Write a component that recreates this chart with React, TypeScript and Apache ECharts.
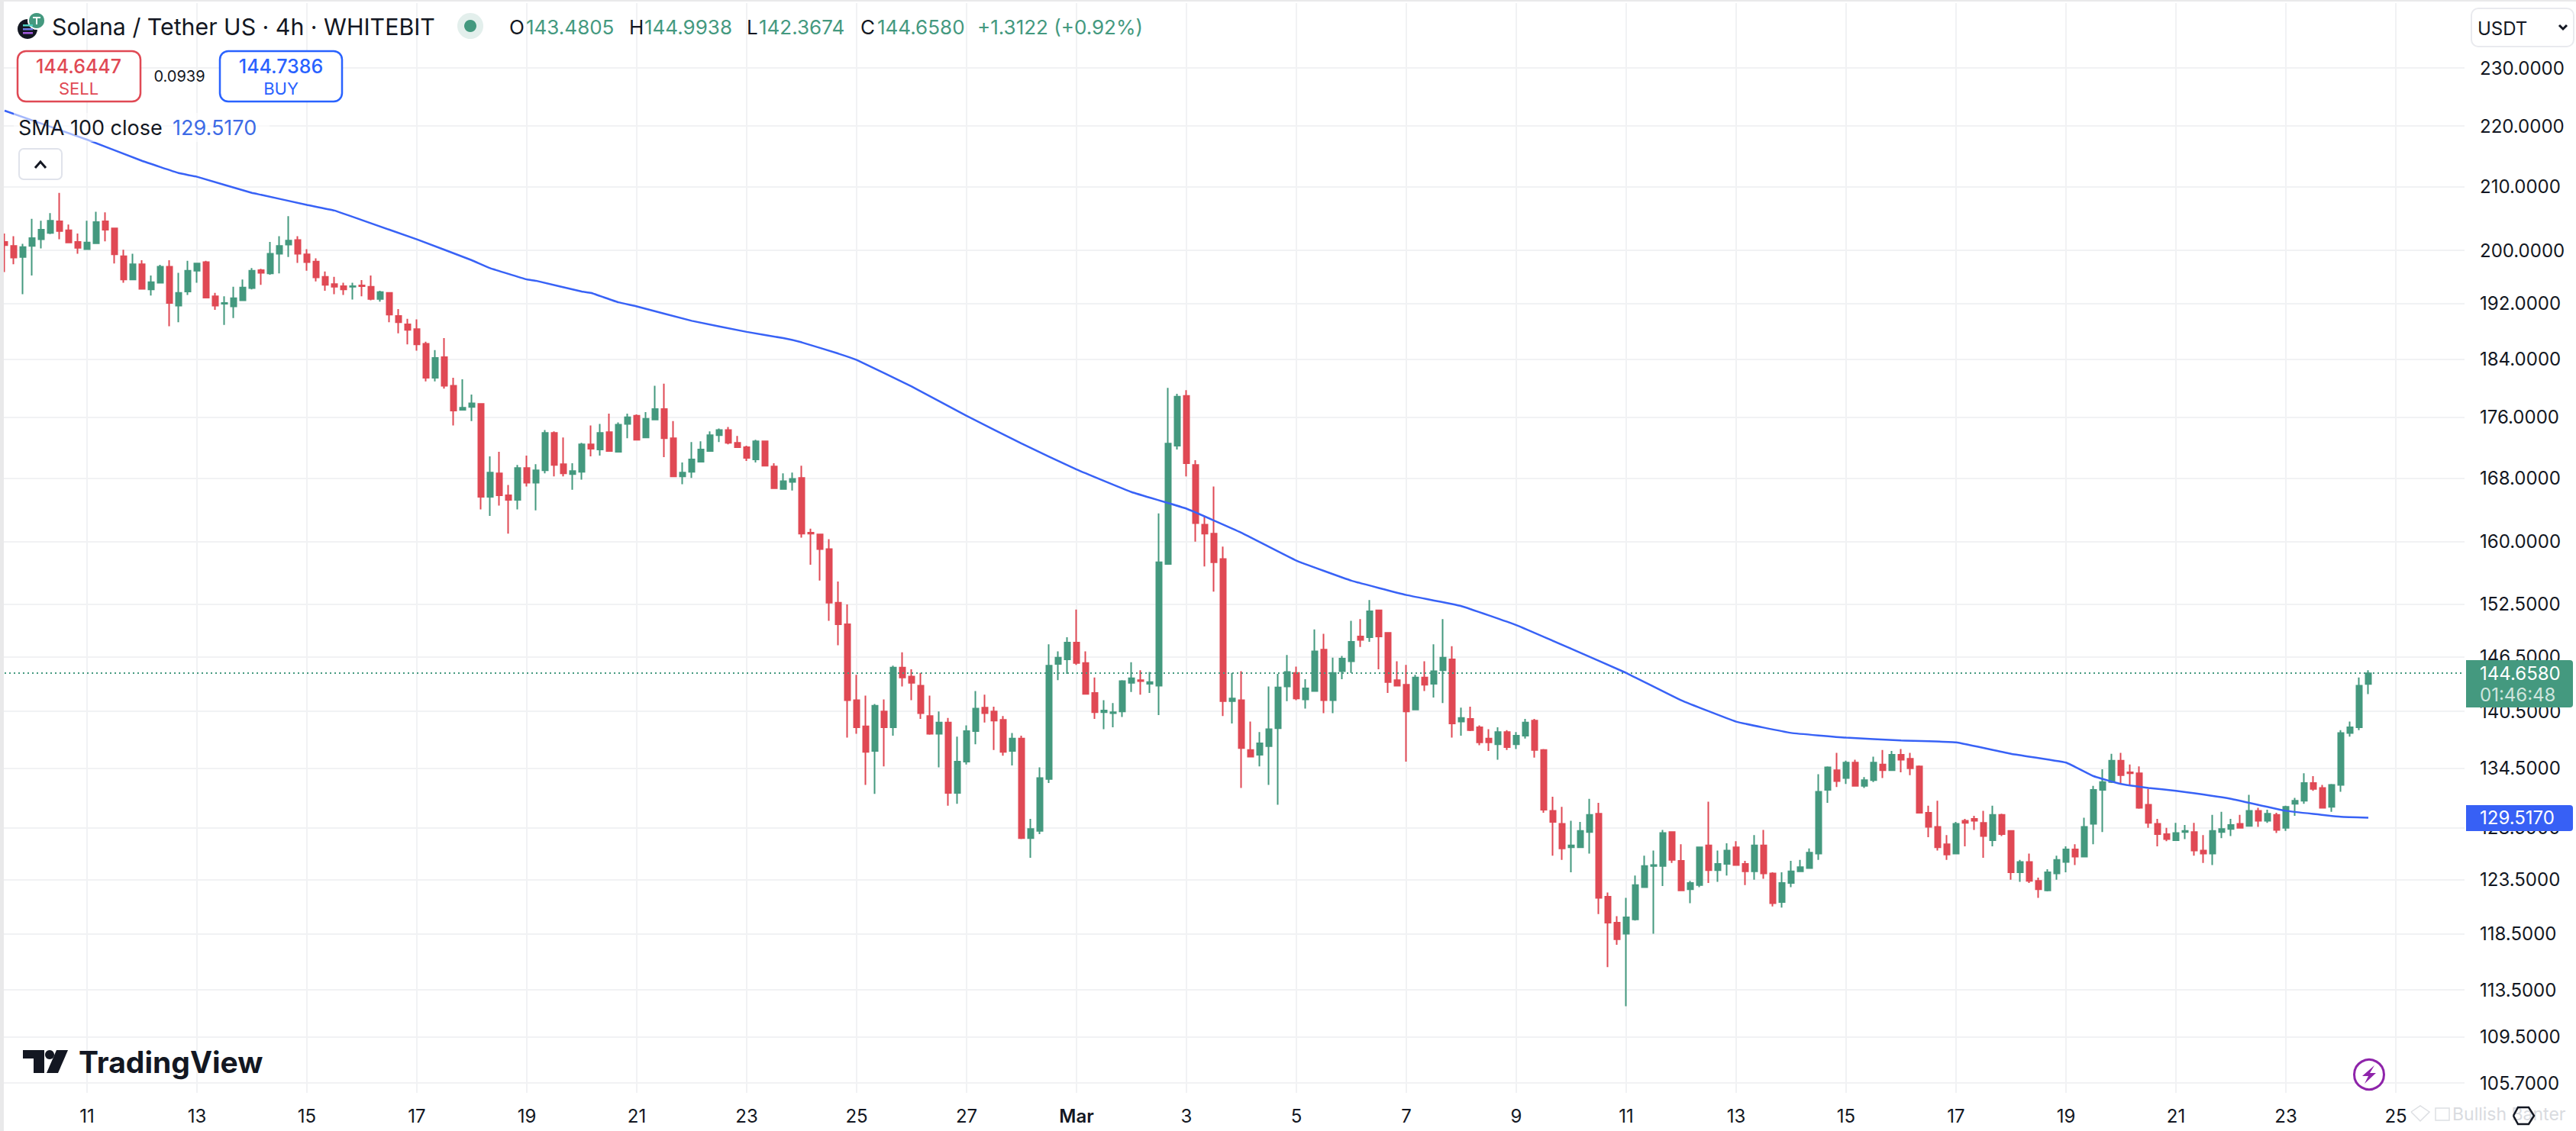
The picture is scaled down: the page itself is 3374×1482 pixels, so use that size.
import React, { useEffect, useRef } from "react";
import * as echarts from "echarts";

// Rows are [open, high, low, close], one every 4 hours
const barsEarlyFeb: number[][] = [
[201.3,202.6,196.7,200.8],[200.7,202.2,197.9,198.9],[199.0,201.0,193.4,200.5],[200.7,204.9,196.2,201.9],[201.7,204.6,200.3,203.2],[202.7,205.8,202.5,204.6],[204.5,209.0,201.7,203.0],[203.1,204.0,201.1,201.2],[201.3,202.6,199.5,200.4],
[200.2,204.6,200.1,201.2],[201.1,206.0,201.1,204.4],[204.5,205.9,201.4,203.2],[203.4,203.4,198.0,199.4],[199.1,200.1,195.1,195.6],[195.6,199.5,195.6,197.9],[197.9,198.5,194.1,194.2],[194.1,196.2,193.2,195.2],[195.1,197.8,195.1,197.5],
[197.5,198.5,188.7,192.1],[191.7,196.6,189.3,193.6],[193.8,198.4,193.3,196.9],[196.9,198.0,195.1,198.0],[198.2,198.4,192.9,192.9],[193.1,193.6,191.1,191.7],[192.0,193.1,188.9,192.1],[191.6,194.5,189.9,192.8],[192.5,195.6,192.5,194.4],
[194.3,197.3,194.1,196.9],[197.0,197.2,194.8,196.6],[196.5,201.3,196.3,199.5],[199.5,202.2,196.5,200.7],[200.9,205.3,199.0,201.5],[201.6,202.2,198.1,199.5],[199.4,200.2,196.9,198.2],[198.3,198.8,195.3,195.9],[196.0,196.8,193.9,194.8],
[194.9,196.0,193.4,194.5],[194.6,195.1,193.3,194.1],[194.5,195.1,192.6,194.6],[194.7,195.5,193.1,194.6],[194.5,196.2,192.5,192.7],[192.7,193.9,192.3,193.7],[193.6,193.7,189.3,190.4],[190.2,191.2,187.7,189.3],[189.0,189.8,186.1,188.2],
[188.3,189.7,185.2,186.1],[186.2,186.5,180.9,181.4],[181.4,185.3,180.9,184.2],[184.3,187.0,179.9,180.3],[180.3,181.4,174.9,176.9],[177.0,181.2,176.9,177.3],[177.4,179.1,175.5,177.9],[177.8,177.9,164.0,165.6],[165.6,170.8,163.2,168.7],
[168.6,171.4,164.5,165.8],[165.8,167.1,161.0,165.2],[165.2,169.7,164.0,169.3],[169.3,170.9,166.9,167.4],[167.4,169.8,163.9,169.0],[169.0,174.3,168.6,173.9],[173.9,174.1,168.2,169.7],[169.8,173.3,168.2,168.6],[168.5,169.9,166.5,168.9],
[168.8,172.6,167.8,172.4],[172.4,174.9,170.8,171.8],[171.7,175.1,170.9,173.9],[174.0,176.5,171.4,171.5],
];
const barsLateFeb: number[][] = [
[171.4,175.3,171.3,175.0],[175.1,176.5,173.2,176.0],[176.2,176.4,173.0,173.0],[173.3,176.7,173.2,175.8],[175.7,180.3,175.7,177.1],[177.1,180.6,170.7,173.2],[173.2,175.5,168.1,168.2],[168.2,170.0,167.2,168.7],[168.8,172.7,168.0,170.4],
[170.1,172.8,170.1,171.7],[171.5,174.1,171.4,173.6],[173.6,174.5,172.7,174.3],[174.3,174.7,172.4,172.6],[172.6,173.5,171.9,172.0],[172.0,172.2,170.2,170.6],[170.4,173.0,170.0,172.8],[172.8,172.8,169.5,169.6],[169.5,169.9,166.6,166.7],
[166.6,168.6,166.5,167.6],[167.5,168.7,166.4,167.9],[168.0,169.6,160.5,161.0],[161.1,161.6,157.2,161.0],[160.9,161.0,155.3,159.1],[159.1,160.3,150.6,152.7],[152.7,155.2,147.8,150.2],[150.2,152.5,137.7,141.7],[141.7,144.5,138.1,138.8],
[138.9,142.2,132.8,136.2],[136.3,141.3,131.9,141.1],[140.5,141.8,134.7,138.8],[138.8,145.5,137.9,145.3],[145.3,147.0,143.2,144.2],[144.3,145.1,141.7,143.6],[143.3,144.7,139.7,140.3],[140.0,142.2,138.0,138.1],[138.1,140.5,134.6,139.3],
[139.3,139.8,130.7,132.0],[132.0,137.8,130.9,135.2],[135.2,139.0,134.9,138.4],[138.4,142.7,137.0,140.8],[140.9,142.3,139.3,140.3],[140.5,141.0,136.4,139.5],[139.6,140.0,135.8,136.2],[136.3,138.2,134.8,137.6],[137.6,137.9,127.4,127.5],
[127.5,129.4,125.6,128.4],[128.2,134.6,127.9,133.5],[133.4,147.9,133.0,145.5],[145.7,147.1,143.9,146.4],[146.2,148.7,144.6,148.1],[148.1,151.9,145.6,145.8],[145.8,147.1,142.3,142.4],[142.5,144.2,139.7,140.4],[140.4,141.7,138.6,140.6],
[140.3,141.4,138.8,140.4],[140.5,143.9,139.9,143.8],[143.6,145.9,142.6,144.1],[143.9,145.0,142.3,143.8],[143.5,144.8,142.5,143.7],[143.3,163.5,140.1,157.5],[157.3,180.0,157.3,172.5],[172.2,179.2,171.7,178.8],[178.9,179.7,168.2,169.9],
[169.7,170.3,160.0,162.3],[162.1,163.1,157.0,161.0],[161.0,166.9,154.0,157.5],
];
const barsEarlyMar: number[][] = [
[157.9,159.4,140.0,141.6],[141.6,144.7,139.2,141.9],[141.7,144.9,132.5,136.6],[136.4,139.4,135.7,135.7],[135.9,138.3,134.7,137.1],[136.8,143.2,132.8,138.6],[138.7,144.6,130.8,143.1],[143.2,146.7,141.6,144.8],[144.7,145.4,141.7,141.9],
[141.8,144.0,140.8,143.0],[142.7,149.6,142.7,147.1],[147.3,149.1,140.3,141.7],[141.7,146.4,140.3,144.7],[144.9,146.6,144.0,146.3],[146.0,150.6,144.7,148.2],[148.8,150.8,147.6,148.4],[148.7,153.0,148.2,151.7],[151.8,151.8,145.1,148.8],
[149.2,149.2,142.5,143.7],[143.9,146.0,143.3,143.3],[143.4,145.6,135.2,140.5],[140.7,144.5,140.7,144.2],[144.2,146.0,142.7,143.4],[143.5,147.9,142.0,144.9],[145.0,150.8,141.4,146.4],[146.2,147.7,137.7,139.2],[139.4,140.9,137.9,139.8],
[139.7,141.0,138.4,138.5],[138.8,139.0,136.9,137.2],[137.6,138.6,136.3,137.2],[137.0,138.8,135.4,138.3],[138.3,138.5,136.4,136.7],[137.0,138.3,136.5,137.9],[137.9,139.7,137.6,139.3],[139.5,139.7,135.6,136.4],[136.4,136.5,130.0,130.3],
[130.2,131.6,125.8,129.1],[128.9,130.6,125.4,126.5],[126.6,129.2,124.2,126.8],[126.6,129.1,126.6,128.2],[128.1,131.4,126.0,129.8],[129.9,131.0,120.3,121.8],[121.9,122.3,115.5,119.5],[119.5,120.1,117.5,118.0],[118.5,121.8,112.1,120.0],
[119.8,123.9,119.7,123.0],[122.8,125.8,122.8,124.8],[124.8,126.3,118.5,124.9],[124.8,128.3,122.9,128.0],[128.1,128.1,125.1,125.4],[125.3,126.9,122.5,122.5],[122.6,123.4,121.3,123.2],[123.0,126.6,122.8,126.6],[126.8,131.1,123.2,124.4],
];
const barsLateMar: number[][] = [
[124.4,126.3,123.3,125.0],[125.0,127.0,123.9,126.3],[126.6,127.2,124.9,124.9],[125.0,125.3,123.0,124.3],[124.3,127.8,123.5,126.8],[126.8,128.3,123.6,124.1],[124.1,124.2,121.0,121.3],[121.4,124.2,120.9,123.2],[123.2,125.3,122.8,124.3],
[124.3,125.4,124.3,124.7],[124.6,126.5,124.6,126.1],[126.0,133.9,125.4,132.1],[132.3,134.7,131.0,134.6],[134.3,136.1,132.6,133.2],[133.5,135.3,132.9,135.1],[135.1,135.4,132.7,132.7],[132.7,133.6,132.5,133.3],[133.3,135.7,133.1,135.1],
[134.9,136.4,133.5,134.3],[134.3,136.3,134.3,135.9],[135.9,136.5,134.1,135.4],[135.5,136.1,133.8,134.5],[134.7,134.8,130.0,130.0],[130.0,130.7,127.6,128.6],[128.6,131.2,126.3,126.6],[126.9,127.8,125.4,125.9],[126.0,129.1,126.0,128.9],
[129.2,129.4,126.7,129.0],[129.4,129.7,128.3,129.2],[129.0,130.2,125.6,127.7],[127.3,130.7,126.7,129.8],[129.8,129.9,127.7,127.9],[128.2,128.2,123.5,124.2],[124.2,125.4,123.3,125.2],[125.2,126.0,123.2,123.4],[123.4,123.7,121.8,122.6],
[122.5,124.5,122.4,124.2],[124.1,125.8,123.5,125.4],[125.2,126.7,124.2,126.4],[126.4,126.9,124.9,125.7],[125.7,129.5,125.7,128.6],[128.9,132.7,126.9,132.3],[132.3,134.4,128.1,133.1],[133.1,136.0,133.0,135.3],[135.3,136.1,132.9,133.8],
[134.1,134.9,132.7,134.0],[134.0,134.7,130.4,130.5],[130.8,132.4,128.5,129.0],[128.9,129.4,126.7,127.9],[127.9,128.5,127.2,127.4],[127.3,129.0,127.3,128.0],[128.1,128.8,127.4,128.2],[128.1,129.0,125.8,126.3],[126.3,127.8,125.1,126.0],
[126.0,129.8,124.9,128.2],[128.1,130.1,127.5,128.4],[128.4,129.4,127.7,128.8],[128.9,129.8,128.5,128.5],[128.7,131.8,128.7,130.2],[130.2,130.5,128.6,129.2],[129.2,130.3,129.0,129.9],[129.8,130.0,128.0,128.3],[128.5,130.7,128.2,130.6],
[130.9,131.5,129.7,131.2],[131.2,134.0,130.9,133.0],[133.0,133.7,132.2,132.4],[132.5,132.8,130.5,130.5],[130.6,132.9,130.1,132.8],[132.8,138.5,132.1,138.2],[138.2,139.4,137.8,138.8],[138.8,144.2,138.5,143.3],[143.4805,144.9938,142.3674,144.658],
];

// SMA 100: [bar number, value]
const smaPoints: number[][] = [
[0,222.6],[9,217.7],[15,214.2],[19,212.2],[21,211.6],[27,209.0],[28,208.7],[33,207.1],[36,206.2],[39,204.7],[45,201.7],[51,198.5],[53,197.3],[57,195.6],[58,195.4],[63,193.8],[64,193.6],[67,192.2],[69,191.6],[75,189.5],[81,187.9],[85,187.0],
[87,186.4],[91,184.8],[93,183.9],[99,180.2],[105,176.2],[111,172.5],[117,169.1],[123,166.2],[129,164.1],[135,161.1],[141,157.7],[147,155.3],[153,153.6],[159,152.3],
[165,150.1],[171,147.4],[177,144.7],[183,141.7],[189,139.4],[195,138.2],[201,137.7],[207,137.4],[213,137.2],[219,136.0],[225,135.1],[228,133.7],[231,132.9],
[234,132.5],[237,132.2],[243,131.4],[249,130.2],[255,129.6],[258,129.517],
];

const priceTicks = [230, 220, 210, 200, 192, 184, 176, 168, 160, 152.5, 146.5, 140.5, 134.5, 128.5, 123.5, 118.5, 113.5, 109.5, 105.7];
const labelledDays = ["02-11","02-13","02-15","02-17","02-19","02-21","02-23","02-25","02-27","03-01","03-03","03-05","03-07","03-09","03-11","03-13","03-15","03-17","03-19","03-21","03-23","03-25"];
const lastPrice = 144.658;
const smaLast = "129.5170";

const GREEN = "#44997F";
const RED = "#E04954";
const BLUE = "#3862F6";
const INK = "#131722";
const FONT = "Inter";

const bars = [...barsEarlyFeb, ...barsLateFeb, ...barsEarlyMar, ...barsLateMar];

// Categories every 4 hours from 9 Feb 12:00, continuing past the last bar
const categories: string[] = [];
for (let i = 0; i < 269; i++) {
  const d = new Date(Date.UTC(2025, 1, 9, 12 + 4 * i));
  const p = (n: number) => String(n).padStart(2, "0");
  categories.push(`${p(d.getUTCMonth() + 1)}-${p(d.getUTCDate())} ${p(d.getUTCHours())}:00`);
}
const isLabelled = (c: string) => c.endsWith(" 00:00") && labelledDays.includes(c.slice(0, 5));
const labelOf = (c: string) => (c.startsWith("03-01") ? "{mar|Mar}" : String(Number(c.slice(3, 5))));

const txt = (text: string, x: number, y: number, fill: string, fontSize: number, extra: any = {}) => ({
  type: "text", z: 100, x, y,
  style: { text, fill, fontSize, fontFamily: FONT, textAlign: "left", textVerticalAlign: "middle", ...extra },
});
const box = (x: number, y: number, w: number, h: number, r: number, fill: string, stroke: string, lineWidth = 2) => ({
  type: "rect", z: 99, shape: { x, y, width: w, height: h, r }, style: { fill, stroke, lineWidth },
});
const poly = (points: number[][], fill: string) => ({ type: "polygon", z: 100, shape: { points }, style: { fill } });
const chevron = (points: number[][], stroke: string, lineWidth = 3) => ({
  type: "polyline", z: 100, shape: { points }, style: { stroke, lineWidth, fill: "none" },
});

const graphics: any[] = [
  // page edge
  { type: "rect", z: 98, shape: { x: 0, y: 0, width: 5, height: 1482 }, style: { fill: "#E9E9EA" } },
  { type: "rect", z: 98, shape: { x: 0, y: 0, width: 3374, height: 2 }, style: { fill: "#E9E9EA" } },
  // symbol icons
  { type: "circle", z: 100, shape: { cx: 36, cy: 38, r: 13 }, style: { fill: INK } },
  { type: "rect", z: 101, shape: { x: 30, y: 32, width: 13, height: 2.5 }, style: { fill: "#4FD0C0" } },
  { type: "rect", z: 101, shape: { x: 30, y: 37, width: 13, height: 2.5 }, style: { fill: "#6C7BE0" } },
  { type: "rect", z: 101, shape: { x: 30, y: 42, width: 13, height: 2.5 }, style: { fill: "#A55BE0" } },
  { type: "circle", z: 100, shape: { cx: 48, cy: 27, r: 11 }, style: { fill: GREEN, stroke: "#fff", lineWidth: 2 } },
  { type: "rect", z: 101, shape: { x: 43, y: 22, width: 10, height: 2 }, style: { fill: "#fff" } },
  { type: "rect", z: 101, shape: { x: 47, y: 22, width: 2, height: 10 }, style: { fill: "#fff" } },
  txt("Solana / Tether US · 4h · WHITEBIT", 68, 35, INK, 30.3),
  { type: "circle", z: 100, shape: { cx: 616, cy: 34, r: 17 }, style: { fill: "#E3EFEC" } },
  { type: "circle", z: 101, shape: { cx: 616, cy: 34, r: 8 }, style: { fill: GREEN } },
  // OHLC legend
  txt("O", 667, 35, INK, 26), txt("143.4805", 689, 35, GREEN, 26),
  txt("H", 824, 35, INK, 26), txt("144.9938", 844, 35, GREEN, 26),
  txt("L", 978, 35, INK, 26), txt("142.3674", 994, 35, GREEN, 26),
  txt("C", 1127, 35, INK, 26), txt("144.6580", 1149, 35, GREEN, 26),
  txt("+1.3122 (+0.92%)", 1280, 35, GREEN, 26),
  // trade buttons
  box(23, 67, 161, 66, 11, "#fff", RED, 2.5),
  txt("144.6447", 103, 87, RED, 25, { textAlign: "center", fontWeight: 500 }),
  txt("SELL", 103, 116, RED, 22, { textAlign: "center" }),
  txt("0.0939", 235, 100, INK, 20, { textAlign: "center" }),
  box(288, 67, 160, 66, 11, "#fff", "#2962FF", 2.5),
  txt("144.7386", 368, 87, "#2962FF", 25, { textAlign: "center", fontWeight: 500 }),
  txt("BUY", 368, 116, "#2962FF", 22, { textAlign: "center" }),
  // indicator legend with its translucent backing over the line
  { type: "rect", z: 98, shape: { x: 18, y: 148, width: 335, height: 38 }, style: { fill: "rgba(255,255,255,0.55)" } },
  txt("SMA 100 close", 24, 167, INK, 27),
  txt("129.5170", 226, 167, "#3D6BE6", 27),
  box(25, 195, 56, 40, 6, "#fff", "#E0E3EB"),
  chevron([[46, 220], [53, 212], [60, 220]], INK),
  // currency button
  box(3237, 11, 134, 50, 9, "#fff", "#E9EAEE"),
  txt("USDT", 3245, 37, INK, 24),
  chevron([[3352, 33], [3357, 38], [3362, 33]], INK),
  // price badges
  { type: "rect", z: 99, shape: { x: 3230, y: 865, width: 140, height: 62, r: [0, 4, 4, 0] }, style: { fill: GREEN } },
  txt("144.6580", 3248, 882, "#fff", 24),
  txt("01:46:48", 3248, 910, "#CFE5DE", 24),
  { type: "rect", z: 99, shape: { x: 3230, y: 1055, width: 140, height: 34, r: [0, 4, 4, 0] }, style: { fill: "#3760F5" } },
  txt(smaLast, 3248, 1071, "#fff", 24),
  // TradingView mark
  poly([[30, 1376], [58, 1376], [58, 1406], [44, 1406], [44, 1387], [30, 1387]], INK),
  { type: "circle", z: 100, shape: { cx: 65, cy: 1382, r: 6 }, style: { fill: INK } },
  poly([[74, 1376], [89, 1376], [76, 1406], [61, 1406]], INK),
  txt("TradingView", 103, 1391, INK, 39, { fontWeight: 700 }),
  // replay bolt
  { type: "circle", z: 100, shape: { cx: 3103, cy: 1408, r: 19.5 }, style: { fill: "#fff", stroke: "#8E24AA", lineWidth: 3 } },
  poly([[3110, 1396], [3094, 1410], [3102, 1410], [3097, 1420], [3112, 1406], [3104, 1406]], "#8E24AA"),
  // footer watermark and settings icon
  txt("Bullish Banter", 3212, 1460, "#D9DBDF", 23),
  chevron([[3158, 1457], [3170, 1449], [3182, 1457], [3170, 1469], [3158, 1457]], "#DDDFE3", 1.5),
  { type: "rect", z: 100, shape: { x: 3190, y: 1452, width: 18, height: 16 }, style: { fill: "none", stroke: "#DDDFE3", lineWidth: 1.5 } },
  chevron([[3292, 1462], [3298, 1451], [3312, 1451], [3319, 1462], [3312, 1473], [3298, 1473], [3292, 1462]], INK, 2.5),
];

export default function App() {
  const ref = useRef<HTMLDivElement>(null);
  useEffect(() => {
    const chart = echarts.init(ref.current!, undefined, { renderer: "svg" });
    chart.setOption({
      animation: false,
      backgroundColor: "#fff",
      textStyle: { fontFamily: FONT },
      grid: { left: 0, top: 4, width: 3228, height: 1428, containLabel: false },
      xAxis: {
        type: "category",
        data: categories,
        boundaryGap: true,
        axisLine: { show: false },
        axisTick: { show: false },
        axisLabel: {
          interval: (_: number, v: string) => isLabelled(v),
          formatter: (v: string) => labelOf(v),
          color: INK, fontSize: 24, fontFamily: FONT, margin: 18,
          rich: { mar: { color: INK, fontSize: 24, fontFamily: FONT, fontWeight: 600 } },
        },
        splitLine: {
          show: true,
          alignWithLabel: true,
          interval: (_: number, v: string) => isLabelled(v),
          lineStyle: { color: "#F1F2F4", width: 2 },
        },
      },
      yAxis: {
        type: "log",
        position: "right",
        min: 104.9,
        max: 241.72,
        axisLine: { show: false },
        axisTick: { show: false, customValues: priceTicks },
        axisLabel: {
          customValues: priceTicks,
          formatter: (v: number) => Number(v).toFixed(4),
          color: INK, fontSize: 24, fontFamily: FONT, margin: 20,
        },
        splitLine: { show: true, lineStyle: { color: "#F1F2F4", width: 2 } },
      },
      series: [
        {
          type: "candlestick",
          data: bars.map(([o, h, l, c]) => [o, c, l, h]),
          barWidth: 8,
          itemStyle: { color: GREEN, color0: RED, borderColor: GREEN, borderColor0: RED, borderWidth: 2 },
          markLine: {
            silent: true,
            symbol: "none",
            label: { show: false },
            lineStyle: { color: GREEN, type: [2, 4], width: 2 },
            data: [{ yAxis: lastPrice }],
          },
        },
        {
          type: "line",
          data: smaPoints,
          showSymbol: false,
          connectNulls: true,
          smooth: 0.1,
          z: 5,
          lineStyle: { color: BLUE, width: 2.5 },
        },
      ],
      graphic: graphics,
    });
    return () => chart.dispose();
  }, []);
  return (
    <div
      ref={ref}
      style={{ position: "fixed", left: 0, top: 0, width: 3374, height: 1482, background: "#fff" }}
    />
  );
}
